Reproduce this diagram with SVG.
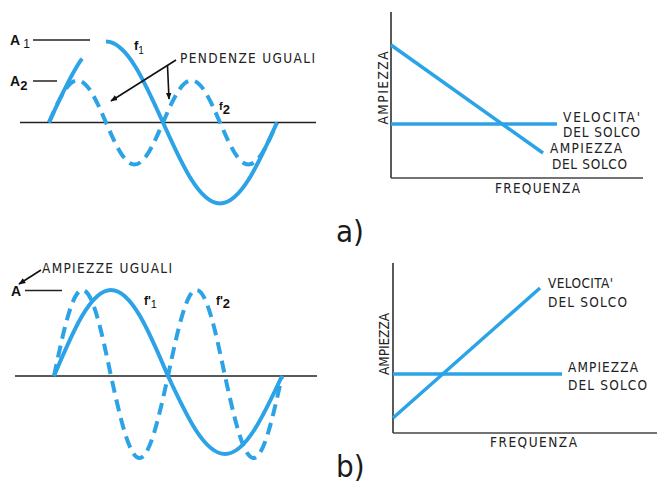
<svg xmlns="http://www.w3.org/2000/svg" width="664" height="485" viewBox="0 0 664 485">
<defs>
<style>
.wave{fill:none;stroke:#2ba3e6;stroke-width:4;stroke-linecap:butt;stroke-linejoin:round}
.dash{stroke-dasharray:12 7}
.bl{fill:none;stroke:#2ba3e6;stroke-width:3.5}
.axis{fill:none;stroke:#222;stroke-width:1.5}
.axis2{fill:none;stroke:#444;stroke-width:1.3}
.lead{fill:none;stroke:#111;stroke-width:1.6}
.lbl{font-family:"DejaVu Sans Condensed","Liberation Sans Narrow","Liberation Sans",sans-serif;font-size:13.5px;fill:#222}
.big{font-family:"DejaVu Sans Condensed","Liberation Sans Narrow","Liberation Sans",sans-serif;font-size:31px;fill:#1a1a1a}
.sym{font-family:"Liberation Sans",Arial,sans-serif;font-weight:bold;fill:#111}
</style>
<marker id="ah" viewBox="0 0 10 10" refX="9" refY="5" markerWidth="7" markerHeight="7" orient="auto" markerUnits="userSpaceOnUse">
<path d="M0,1 L10,5 L0,9 Z" fill="#111"/>
</marker>
</defs>
<rect width="664" height="485" fill="#fff"/>

<!-- panel a) waves -->
<g id="panel-a-waves">
<line class="axis" x1="20" y1="122.5" x2="316" y2="122.5"/>
<line class="axis" x1="33" y1="40" x2="90" y2="40"/>
<line class="axis" x1="33" y1="81" x2="57" y2="81"/>
<path class="wave" d="M49,122.5 C60,98 71,73.7 82,58.6"/>
<path class="wave" d="M106,41.5 C126.6,41.5 144.4,81 163,122.5 S199.4,203.5 220,203.5 S258.4,164 277,122.5"/>
<path class="wave dash" d="M49,122.5 C58.3,101 67.2,80.5 77.5,80.5 S96.7,101 106,122.5 S124.2,164.5 134.5,164.5 S153.7,144 163,122.5 S181.2,80.5 191.5,80.5 S210.7,101 220,122.5 S238.2,164.5 248.5,164.5 S267.7,144 277,122.5"/>
</g>
<g id="label-A1"><text class="sym" x="10" y="45" font-size="14">A<tspan font-size="12" font-weight="normal" dx="3" dy="3">1</tspan></text></g>
<g id="label-A2"><text class="sym" x="10" y="86" font-size="14">A<tspan font-size="13" dy="4">2</tspan></text></g>
<g id="label-f1"><text class="sym" x="134" y="50" font-size="13">f<tspan font-size="10" font-weight="normal" dy="4">1</tspan></text></g>
<g id="label-f2"><text class="sym" x="219" y="110" font-size="11">f<tspan font-size="13" dy="4">2</tspan></text></g>
<g id="label-pendenze"><text class="lbl" x="180" y="63" textLength="135" lengthAdjust="spacing">PENDENZE UGUALI</text></g>

<!-- panel a) graph -->
<g id="graph-a">
<line class="axis" x1="391" y1="12" x2="391" y2="178"/>
<line class="axis2" x1="391" y1="178" x2="643" y2="178"/>
<line class="bl" x1="391" y1="45" x2="543" y2="153"/>
<line class="bl" x1="391" y1="124" x2="557" y2="124"/>
<text class="lbl" transform="translate(388,88) rotate(-90)" text-anchor="middle" textLength="73" lengthAdjust="spacing">AMPIEZZA</text>
<text class="lbl" x="563" y="122" textLength="77" lengthAdjust="spacing">VELOCITA'</text>
<text class="lbl" x="563" y="137" textLength="77" lengthAdjust="spacing">DEL SOLCO</text>
<text class="lbl" x="550" y="153" textLength="72" lengthAdjust="spacing">AMPIEZZA</text>
<text class="lbl" x="552" y="169" textLength="75" lengthAdjust="spacing">DEL SOLCO</text>
<text class="lbl" x="495" y="193" textLength="85" lengthAdjust="spacing">FREQUENZA</text>
</g>
<g id="label-a"><text class="big" x="336" y="242">a)</text></g>

<!-- panel b) waves -->
<g id="panel-b-waves">
<line class="axis" x1="15" y1="376" x2="317" y2="376"/>
<line class="axis" x1="25" y1="290.5" x2="62" y2="290.5"/>
<path class="wave" d="M54,376 C72.6,331.9 90.4,290 111,290 C131.6,290 149.4,331.9 168,376 C186.6,416 204.4,454 225,454 C245.6,454 263.4,416 282,376"/>
<path class="wave dash" d="M54,376 C63.3,331.9 72.2,290 82.5,290 C92.8,290 101.7,331.9 111,376 C120.3,418 129.2,458 139.5,458 C149.8,458 158.7,418 168,376 C177.3,331.9 186.2,290 196.5,290 C206.8,290 215.7,331.9 225,376 C234.3,418 243.2,458 253.5,458 C263.8,458 272.7,418 282,376"/>
</g>
<g id="label-A"><text class="sym" x="11" y="296" font-size="14">A</text></g>
<g id="label-f1b"><text class="sym" x="144" y="305" font-size="12">f'<tspan font-size="11" font-weight="normal" dy="3">1</tspan></text></g>
<g id="label-f2b"><text class="sym" x="216" y="305" font-size="12">f'<tspan font-size="13" dy="3">2</tspan></text></g>
<g id="label-ampiezze"><text class="lbl" x="42" y="273" textLength="130" lengthAdjust="spacing">AMPIEZZE UGUALI</text></g>

<!-- panel b) graph -->
<g id="graph-b">
<line class="axis" x1="393" y1="263" x2="393" y2="433"/>
<line class="axis2" x1="393" y1="433" x2="657" y2="433"/>
<line class="bl" x1="393" y1="374" x2="562" y2="374"/>
<line class="bl" x1="393" y1="418" x2="540" y2="288"/>
<text class="lbl" transform="translate(389,344) rotate(-90)" text-anchor="middle" textLength="62" lengthAdjust="spacing">AMPIEZZA</text>
<text class="lbl" x="548" y="288" textLength="65" lengthAdjust="spacing">VELOCITA'</text>
<text class="lbl" x="548" y="307" textLength="79" lengthAdjust="spacing">DEL SOLCO</text>
<text class="lbl" x="568" y="372" textLength="70" lengthAdjust="spacing">AMPIEZZA</text>
<text class="lbl" x="568" y="390" textLength="79" lengthAdjust="spacing">DEL SOLCO</text>
<text class="lbl" x="490" y="447" textLength="87" lengthAdjust="spacing">FREQUENZA</text>
</g>
<g id="label-b"><text class="big" x="336" y="477">b)</text></g>

<!-- connectors -->
<g id="connectors">
<path class="lead" d="M176,60 L111,101" marker-end="url(#ah)"/>
<path class="lead" d="M167.5,65.5 L169,99" marker-end="url(#ah)"/>
<path class="lead" d="M41,270 L19,284" marker-end="url(#ah)"/>
</g>
</svg>
